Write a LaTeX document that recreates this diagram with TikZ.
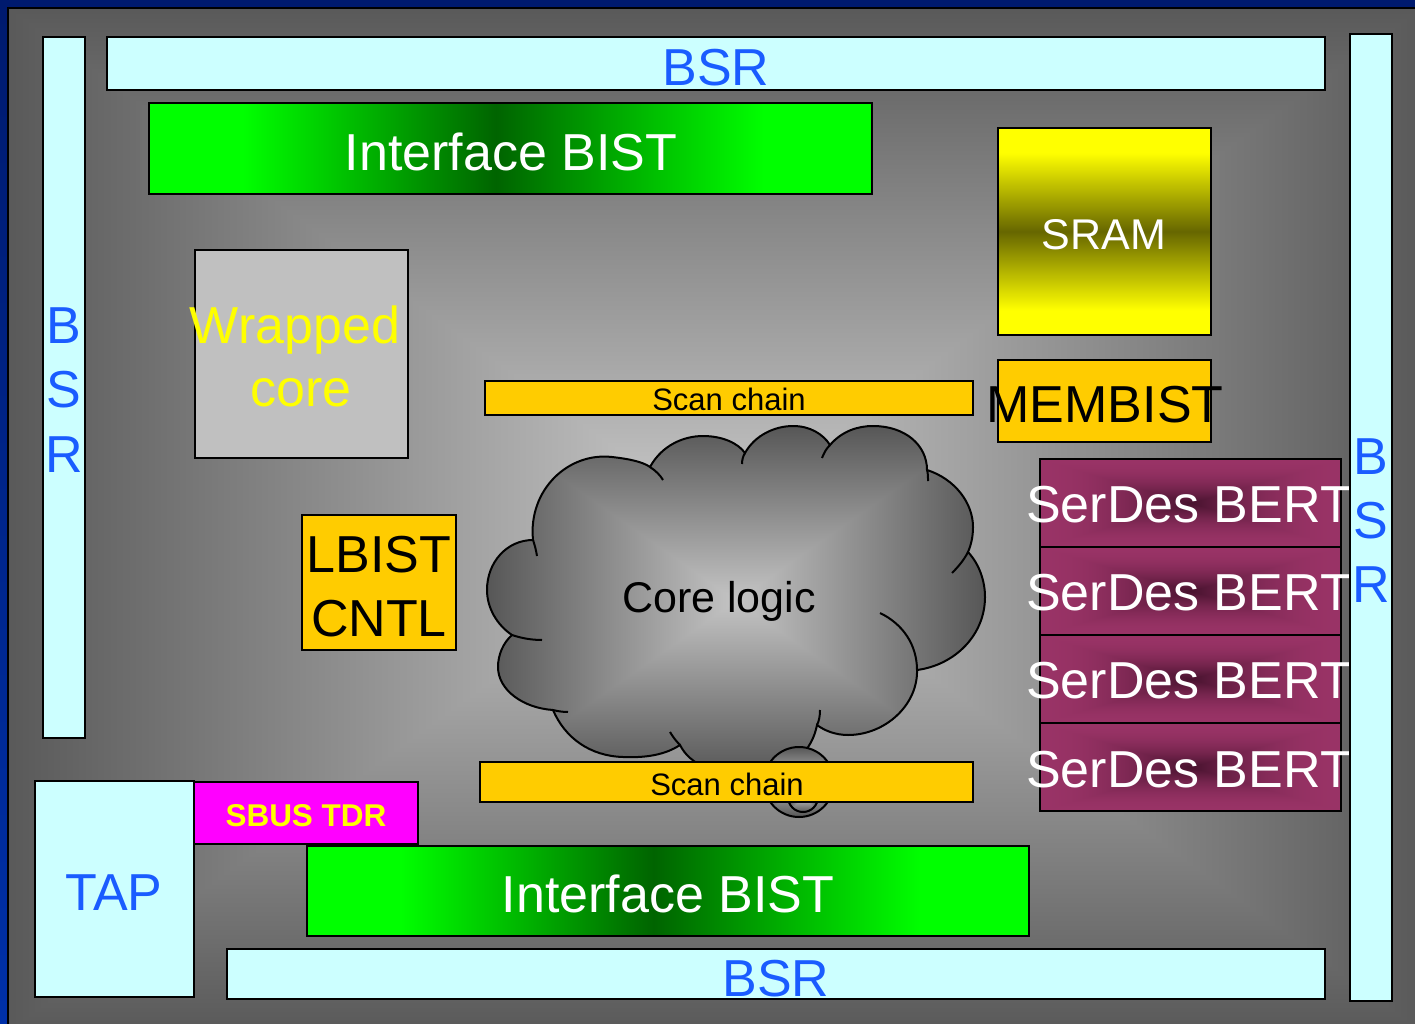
\documentclass[tikz,border=0pt]{standalone}
\usepackage{fontspec}
\setmainfont{Liberation Sans}

\definecolor{navytop}{HTML}{001A6E}
\definecolor{navybot}{HTML}{0030A8}
\definecolor{bsrfill}{HTML}{CCFFFF}
\definecolor{bsrtext}{RGB}{26,92,255}
\definecolor{chainfill}{HTML}{FFCC00}
\definecolor{tdrfill}{HTML}{FF00FF}
\definecolor{wrapfill}{HTML}{C0C0C0}
\definecolor{ibbright}{HTML}{00FF00}
\definecolor{ibdark}{HTML}{006400}
\definecolor{sramyel}{HTML}{FFFF00}
\definecolor{sramolive}{HTML}{666600}

% shadings are 100bp wide; the middle 50bp span is stretched over the shape
% green bar: bright at the ends, dark in the middle
\pgfdeclarehorizontalshading{ibistshade}{100bp}{color(0bp)=(ibbright); color(31.5bp)=(ibbright);
  color(49bp)=(ibdark); color(67.5bp)=(ibbright); color(100bp)=(ibbright)}
% memory block: yellow at top and bottom, olive band in the middle
\pgfdeclareverticalshading{sramshade}{100bp}{color(0bp)=(sramyel); color(31bp)=(sramyel);
  color(50bp)=(sramolive); color(69bp)=(sramyel); color(100bp)=(sramyel)}
% rectangular glow: light centre, darker towards the edges of the shape
\pgfdeclarefunctionalshading{panelglow}{\pgfpoint{-50bp}{-50bp}}{\pgfpoint{50bp}{50bp}}{}{
  abs exch abs 2 copy sub abs add add 50 div -0.44 mul 0.79 add dup dup}
\pgfdeclarefunctionalshading{cloudglow}{\pgfpoint{-50bp}{-50bp}}{\pgfpoint{50bp}{50bp}}{}{
  abs exch abs 2 copy sub abs add add 50 div -0.43 mul 0.77 add dup dup}
\pgfdeclarefunctionalshading{bertglow}{\pgfpoint{-50bp}{-50bp}}{\pgfpoint{50bp}{50bp}}{}{
  abs exch abs 2 copy sub abs add add 50 div 1 exch sub dup 0 gt {} {pop 0} ifelse dup mul
  dup -0.32 mul 0.6 add exch dup -0.13 mul 0.2 add exch -0.22 mul 0.4 add}

\tikzset{
  blk/.style={draw=black, line width=2.5pt, inner sep=0pt, outer sep=0pt},
  bsrbox/.style={blk, fill=bsrfill},
  chainbox/.style={blk, fill=chainfill},
  bertbox/.style={blk, shading=bertglow, minimum width=301pt, minimum height=88pt},
  lbl/.style={inner sep=0pt, anchor=base},
  bigtext/.style={lbl, font=\fontsize{52}{60}\selectfont},
  bsrletter/.style={bigtext, text=bsrtext},
  chaintext/.style={lbl, font=\fontsize{31}{36}\selectfont},
  cloudline/.style={draw=black, line width=2pt},
}

\begin{document}
\begin{tikzpicture}[x=1pt, y=-1pt]
\useasboundingbox (0,0) rectangle (1415,1024);

% frame and die background
\shade[top color=navytop, bottom color=navybot] (0,0) rectangle (1415,1024);
\path[shading=panelglow, draw=black, line width=2pt] (8,8) rectangle (1421,1031);

% boundary scan, left and top
\node[bsrbox, minimum width=42pt, minimum height=701pt] (bsrL) at (64,387.5) {};
\node[bsrbox, minimum width=1218pt, minimum height=53pt] (bsrT) at (716,63.5) {};

% interface BIST, top
\node[blk, shading=ibistshade, minimum width=723pt, minimum height=91pt] (ibT) at (510.5,148.5) {};

% memory and its BIST
\node[blk, shading=sramshade, minimum width=213pt, minimum height=207pt] (sram) at (1104.5,231.5) {};
\node[chainbox, minimum width=213pt, minimum height=82pt] (membist) at (1104.5,401) {};

% wrapped core and logic BIST controller
\node[blk, fill=wrapfill, minimum width=213pt, minimum height=208pt] (wrap) at (301.5,354) {};
\node[chainbox, minimum width=154pt, minimum height=135pt] (lbist) at (379,582.5) {};

% upper scan chain
\node[chainbox, minimum width=488pt, minimum height=34pt] (scanT) at (729,398) {};

% core logic cloud
\path[shading=cloudglow, cloudline] (533,540)
  .. controls (528,490) and (568,452) .. (612,457)
  .. controls (630,459) and (643,462) .. (650,467)
  .. controls (662,445) and (684,436) .. (703,436)
  .. controls (722,436) and (738,443) .. (745,453)
  .. controls (755,435) and (775,426) .. (793,426)
  .. controls (810,426) and (823,434) .. (830,445)
  .. controls (842,431) and (858,426) .. (873,426)
  .. controls (905,426) and (927,445) .. (927,470)
  .. controls (955,479) and (973,503) .. (973,527)
  .. controls (973,537) and (971,545) .. (968,552)
  .. controls (980,565) and (985,582) .. (985,597)
  .. controls (985,635) and (955,665) .. (917,670)
  .. controls (918,705) and (885,735) .. (848,735)
  .. controls (836,735) and (825,731) .. (817,725)
  .. controls (810,760) and (780,775) .. (748,775)
  .. controls (715,775) and (690,765) .. (680,745)
  .. controls (665,755) and (645,758) .. (623,757)
  .. controls (590,756) and (565,738) .. (553,710)
  .. controls (523,708) and (498,690) .. (498,667)
  .. controls (498,655) and (503,643) .. (512,635)
  .. controls (497,625) and (487,608) .. (487,590)
  .. controls (487,562) and (507,540) .. (533,540) -- cycle;
% inner folds of the puffs
\draw[cloudline] (533,540) .. controls (535,546) and (536,550) .. (537,556);
\draw[cloudline] (650,467) .. controls (656,471) and (660,475) .. (663,480);
\draw[cloudline] (745,453) .. controls (743,456) and (742,460) .. (742,464);
\draw[cloudline] (830,445) .. controls (826,449) and (824,453) .. (822,458);
\draw[cloudline] (927,470) .. controls (928,473) and (928,477) .. (928,481);
\draw[cloudline] (968,552) .. controls (964,560) and (958,567) .. (952,573);
\draw[cloudline] (880,613) .. controls (903,624) and (917,645) .. (917,670);
\draw[cloudline] (820,710) .. controls (820,716) and (819,721) .. (817,725);
\draw[cloudline] (670,732) .. controls (673,737) and (676,741) .. (680,745);
\draw[cloudline] (568,712) .. controls (562,712) and (557,711) .. (553,710);
\draw[cloudline] (542,640) .. controls (531,640) and (521,638) .. (512,635);
% trailing bubbles
\path[shading=cloudglow, cloudline] (799,782) circle[radius=35];
\path[shading=cloudglow, cloudline] (803,797) circle[radius=15];

% lower scan chain
\node[chainbox, minimum width=493pt, minimum height=40pt] (scanB) at (726.5,782) {};

% SerDes BERT stack
\node[bertbox] (bert1) at (1190.5,503) {};
\node[bertbox] (bert2) at (1190.5,591) {};
\node[bertbox] (bert3) at (1190.5,679) {};
\node[bertbox] (bert4) at (1190.5,767) {};

% block labels
\node[bigtext, text=white] (tIbT) at (511,171) {Interface BIST};
\node[lbl, text=white, font=\fontsize{43}{50}\selectfont] (tSram) at (1104,250) {SRAM};
\node[bigtext, text=black] (tMembist) at (1105,422) {MEMBIST};
\node[bigtext, text=sramyel] (tWrap1) at (295,343) {Wrapped};
\node[bigtext, text=sramyel] (tWrap2) at (301,406) {core};
\node[bigtext, text=black] (tLbist1) at (379,572) {LBIST};
\node[bigtext, text=black] (tLbist2) at (379,636) {CNTL};
\node[chaintext] (tScanT) at (729,410) {Scan chain};
\node[chaintext] (tScanB) at (727,795) {Scan chain};
\node[lbl, font=\fontsize{43}{50}\selectfont] (tCore) at (719,612) {Core logic};
\node[bigtext, text=white] (tBert1) at (1189,522) {SerDes BERT};
\node[bigtext, text=white] (tBert2) at (1189,610) {SerDes BERT};
\node[bigtext, text=white] (tBert3) at (1189,698) {SerDes BERT};
\node[bigtext, text=white] (tBert4) at (1189,787) {SerDes BERT};

% boundary scan, right
\node[bsrbox, minimum width=42pt, minimum height=967pt] (bsrR) at (1371,517.5) {};

% test access port and sideband register
\node[bsrbox, minimum width=159pt, minimum height=216pt] (tap) at (114.5,889) {};
\node[blk, fill=tdrfill, minimum width=224pt, minimum height=62pt] (sbus) at (306,813) {};

% interface BIST, bottom
\node[blk, shading=ibistshade, minimum width=722pt, minimum height=90pt] (ibB) at (668,891) {};

% boundary scan, bottom
\node[bsrbox, minimum width=1098pt, minimum height=50pt] (bsrB) at (776,974) {};

% remaining labels
\node[bsrletter] (tBsrT) at (716,86) {BSR};
\node[bsrletter] (tBsrB) at (776,996) {BSR};
\node[bsrletter] (tBsrL1) at (64,343) {B};
\node[bsrletter] (tBsrL2) at (64,407) {S};
\node[bsrletter] (tBsrL3) at (64,472) {R};
\node[bsrletter] (tBsrR1) at (1371,474) {B};
\node[bsrletter] (tBsrR2) at (1371,538) {S};
\node[bsrletter] (tBsrR3) at (1371,602) {R};
\node[bsrletter] (tTap) at (114,910) {TAP};
\node[lbl, text=sramyel, font=\fontsize{31.5}{36}\selectfont\bfseries] (tSbus) at (306,826) {SBUS TDR};
\node[bigtext, text=white] (tIbB) at (668,912) {Interface BIST};
\end{tikzpicture}
\end{document}
